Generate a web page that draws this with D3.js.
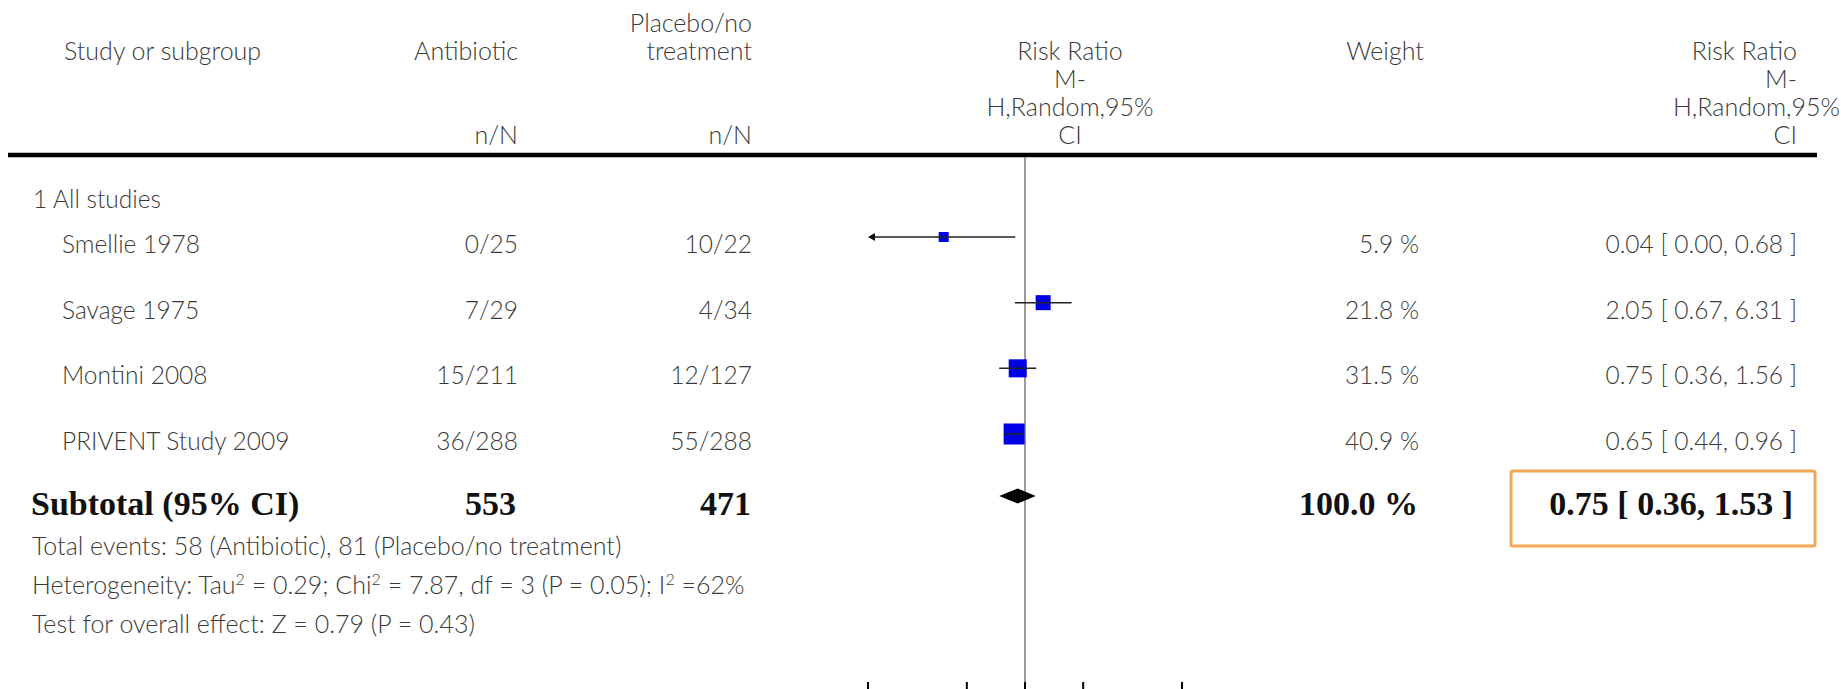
<!DOCTYPE html>
<html>
<head>
<meta charset="utf-8">
<script src="https://cdn.jsdelivr.net/npm/d3@7"></script>
<style>
  body { margin: 0; background: #fff; }
  svg { display: block; }
  .sans { font-family: Lato, "Open Sans", sans-serif; font-weight: 300; fill: #3a3a3a; }
  .serif { font-family: "Liberation Serif", "DejaVu Serif", serif; font-weight: bold; fill: #111; }
</style>
</head>
<body>
<div id="forest"></div>
<script>
// study level data
const studies = ["Smellie 1978", "Savage 1975", "Montini 2008", "PRIVENT Study 2009"];
const abxEvents = [0, 7, 15, 36];
const abxTotal = [25, 29, 211, 288];
const ctlEvents = [10, 4, 12, 55];
const ctlTotal = [22, 34, 127, 288];
const riskRatio = [0.04, 2.05, 0.75, 0.65];
const ciLower = [0.00, 0.67, 0.36, 0.44];
const ciUpper = [0.68, 6.31, 1.56, 0.96];
const weights = [5.9, 21.8, 31.5, 40.9];

// pooled result: [estimate, lower, upper]
const pooled = [0.75, 0.36, 1.53];
const pooledTotals = [553, 471];
const pooledWeight = 100.0;

const axisTicks = [0.002, 0.1, 1, 10, 500];

const width = 1841, height = 689;

const svg = d3.select("#forest")
    .append("svg")
    .attr("width", width)
    .attr("height", height);

svg.append("rect").attr("width", width).attr("height", height).attr("fill", "#fff");

const x = d3.scaleLog().domain([0.002, 500]).range([868, 1182]);
const rowY = d3.scaleLinear().domain([0, studies.length - 1]).range([237, 434]);
const boxSize = d3.scaleLinear().domain([5.9, 40.9]).range([10, 21]);

const fmt2 = d3.format(".2f");
const fmt1 = d3.format(".1f");

// ---- header ----
const header = svg.append("g").attr("class", "sans").style("font-size", "25px");

header.append("text").attr("x", 64).attr("y", 60).text("Study or subgroup");
header.append("text").attr("x", 518).attr("y", 60).attr("text-anchor", "end").text("Antibiotic");
header.append("text").attr("x", 518).attr("y", 144).attr("text-anchor", "end").text("n/N");
header.append("text").attr("x", 752).attr("y", 32).attr("text-anchor", "end").text("Placebo/no");
header.append("text").attr("x", 752).attr("y", 60).attr("text-anchor", "end").text("treatment");
header.append("text").attr("x", 752).attr("y", 144).attr("text-anchor", "end").text("n/N");
header.append("text").attr("x", 1385).attr("y", 60).attr("text-anchor", "middle").text("Weight");

const rrLines = ["Risk Ratio", "M-", "H,Random,95%", "CI"];
header.selectAll(".rr-left")
    .data(rrLines)
    .enter()
    .append("text")
    .attr("x", 1070)
    .attr("y", (d, i) => 60 + i * 28)
    .attr("text-anchor", "middle")
    .text(d => d);

header.selectAll(".rr-right")
    .data(rrLines)
    .enter()
    .append("text")
    .attr("x", (d, i) => i === 2 ? 1840 : 1797)
    .attr("y", (d, i) => 60 + i * 28)
    .attr("text-anchor", "end")
    .text(d => d);

// thick rule under header
svg.append("line")
    .attr("x1", 8).attr("x2", 1817)
    .attr("y1", 155).attr("y2", 155)
    .attr("stroke", "#000")
    .attr("stroke-width", 4.5);

// null line at RR = 1
svg.append("line")
    .attr("x1", x(1)).attr("x2", x(1))
    .attr("y1", 157).attr("y2", height)
    .attr("stroke", "#7a7a7a")
    .attr("stroke-width", 1.5);

// ---- study rows ----
const body = svg.append("g").attr("class", "sans").style("font-size", "24.5px");

body.append("text").attr("x", 33).attr("y", 208).text("1 All studies");

const rows = body.selectAll(".row")
    .data(studies)
    .enter()
    .append("g")
    .attr("class", "row");

rows.append("text").attr("x", 62).attr("y", (d, i) => rowY(i) + 16).text(d => d);
rows.append("text").attr("x", 518).attr("y", (d, i) => rowY(i) + 16).attr("text-anchor", "end")
    .text((d, i) => `${abxEvents[i]}/${abxTotal[i]}`);
rows.append("text").attr("x", 752).attr("y", (d, i) => rowY(i) + 16).attr("text-anchor", "end")
    .text((d, i) => `${ctlEvents[i]}/${ctlTotal[i]}`);
rows.append("text").attr("x", 1419).attr("y", (d, i) => rowY(i) + 16).attr("text-anchor", "end")
    .text((d, i) => `${fmt1(weights[i])} %`);
rows.append("text").attr("x", 1797).attr("y", (d, i) => rowY(i) + 16).attr("text-anchor", "end")
    .text((d, i) => `${fmt2(riskRatio[i])} [ ${fmt2(ciLower[i])}, ${fmt2(ciUpper[i])} ]`);

// ---- forest marks ----
const marks = svg.append("g");
const lo = x.domain()[0];

studies.forEach((s, i) => {
    const y = rowY(i);
    const clipped = ciLower[i] < lo;
    const x1 = clipped ? x(lo) + 6 : x(ciLower[i]);
    const sz = boxSize(weights[i]);

    marks.append("rect")
        .attr("x", x(riskRatio[i]) - sz / 2)
        .attr("y", y - sz / 2)
        .attr("width", sz)
        .attr("height", sz)
        .attr("fill", "#0000e6");

    marks.append("line")
        .attr("x1", x1).attr("x2", x(ciUpper[i]))
        .attr("y1", y).attr("y2", y)
        .attr("stroke", "#222")
        .attr("stroke-width", 1.5);

    marks.append("line")
        .attr("x1", x(riskRatio[i])).attr("x2", x(riskRatio[i]))
        .attr("y1", y - 3).attr("y2", y + 3)
        .attr("stroke", "#222")
        .attr("stroke-opacity", 0.6)
        .attr("stroke-width", 1);

    if (clipped) {
        marks.append("path")
            .attr("d", `M${x(lo)},${y} L${x(lo) + 7},${y - 4} L${x(lo) + 7},${y + 4} Z`)
            .attr("fill", "#111");
    }
});

// pooled diamond
const dy = 496;
marks.append("path")
    .attr("d", `M${x(pooled[1])},${dy} L${x(pooled[0])},${dy - 7.5} L${x(pooled[2])},${dy} L${x(pooled[0])},${dy + 7.5} Z`)
    .attr("fill", "#000");

// axis ticks (labels fall outside the frame)
svg.selectAll(".tick-mark")
    .data(axisTicks)
    .enter()
    .append("line")
    .attr("class", "tick-mark")
    .attr("x1", d => x(d)).attr("x2", d => x(d))
    .attr("y1", 682).attr("y2", height)
    .attr("stroke", "#000")
    .attr("stroke-width", 2);

// ---- subtotal ----
const sub = svg.append("g").attr("class", "serif").style("font-size", "34px");
sub.append("text").attr("x", 31).attr("y", 515).text("Subtotal (95% CI)");
sub.append("text").attr("x", 516).attr("y", 515).attr("text-anchor", "end").text(pooledTotals[0]);
sub.append("text").attr("x", 751).attr("y", 515).attr("text-anchor", "end").text(pooledTotals[1]);
sub.append("text").attr("x", 1418).attr("y", 515).attr("text-anchor", "end").text(`${fmt1(pooledWeight)} %`);
sub.append("text").attr("x", 1793).attr("y", 515).attr("text-anchor", "end")
    .text(`${fmt2(pooled[0])} [ ${fmt2(pooled[1])}, ${fmt2(pooled[2])} ]`);

svg.append("rect")
    .attr("x", 1511).attr("y", 471)
    .attr("width", 304).attr("height", 75)
    .attr("rx", 2)
    .attr("fill", "none")
    .attr("stroke", "#f5a556")
    .attr("stroke-width", 3);

// ---- footnotes ----
const foot = svg.append("g").attr("class", "sans").style("font-size", "25px");
foot.append("text").attr("x", 32).attr("y", 555)
    .text("Total events: 58 (Antibiotic), 81 (Placebo/no treatment)");

const het = foot.append("text").attr("x", 32).attr("y", 594);
const sup = t => het.append("tspan").attr("dy", -9).style("font-size", "16px").text(t);
const base = t => het.append("tspan").attr("dy", 9).text(t);
het.append("tspan").text("Heterogeneity: Tau");
sup("2");
base(" = 0.29; Chi");
sup("2");
base(" = 7.87, df = 3 (P = 0.05); I");
sup("2");
base(" =62%");

foot.append("text").attr("x", 32).attr("y", 633).text("Test for overall effect: Z = 0.79 (P = 0.43)");
</script>
</body>
</html>
